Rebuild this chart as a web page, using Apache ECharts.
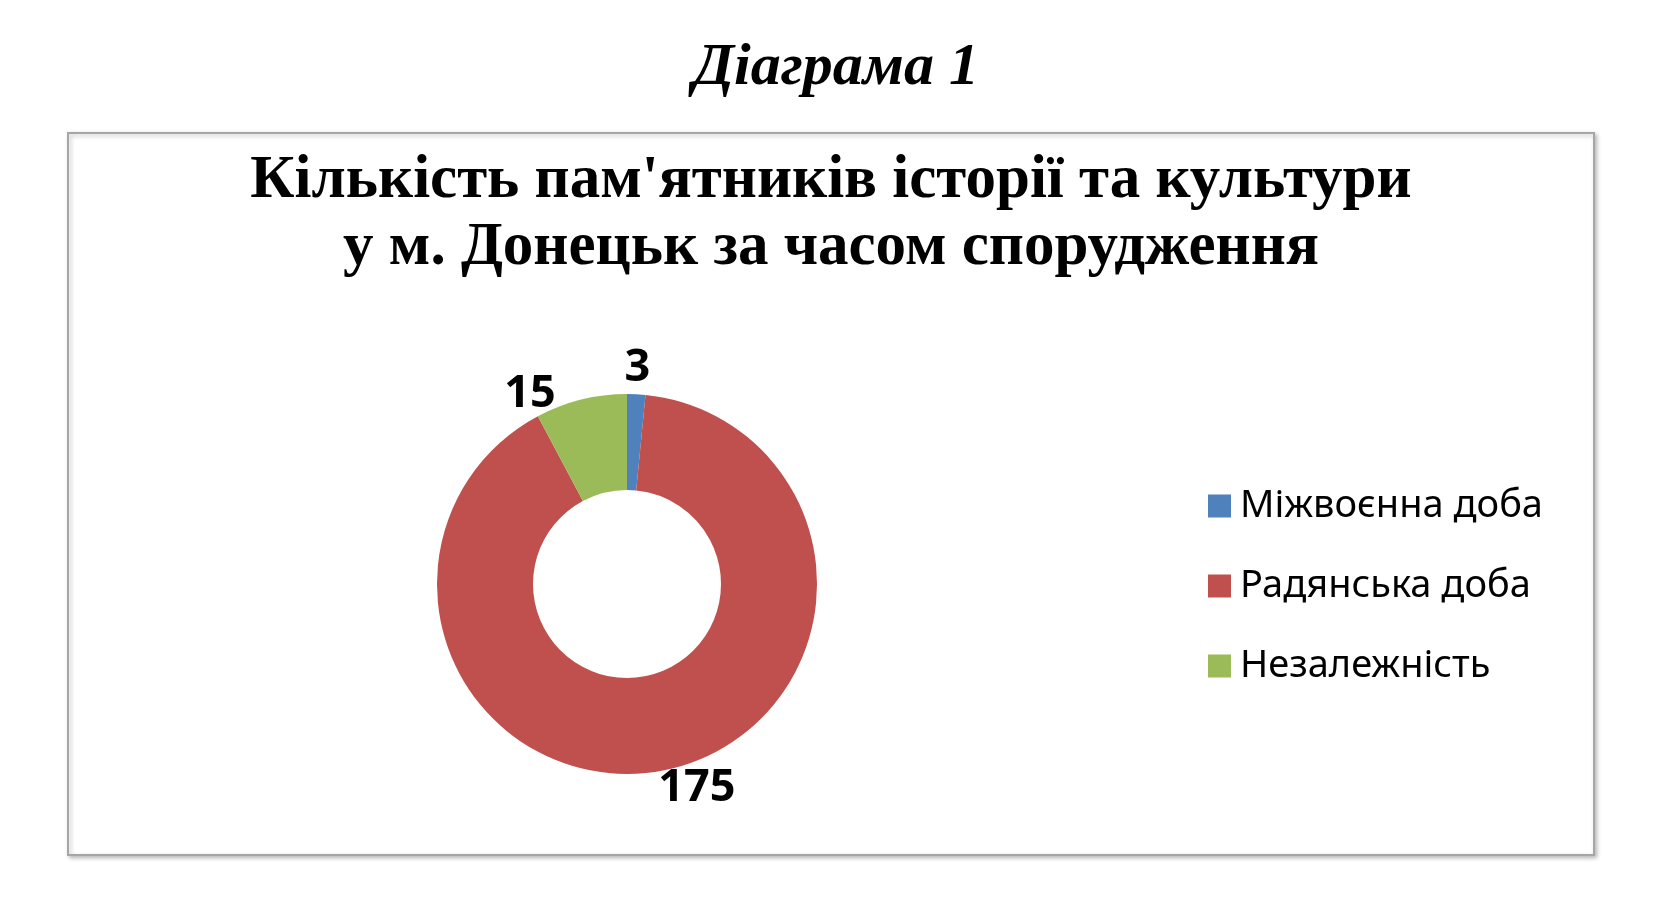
<!DOCTYPE html>
<html>
<head>
<meta charset="utf-8">
<script src="https://cdn.jsdelivr.net/npm/echarts@6/dist/echarts.min.js"></script>
<style>
html,body{margin:0;padding:0;background:#fff;}
#chart{width:1674px;height:908px;}
</style>
</head>
<body>
<div id="chart"></div>
<script>
const categories = ['Міжвоєнна доба', 'Радянська доба', 'Незалежність'];
const values = [3, 175, 15];
const colors = ['#4F81BD', '#C0504D', '#9BBB59'];
const captionText = 'Діаграма 1';
const titleText = "Кількість пам'ятників історії та культури\nу м. Донецьк за часом спорудження";

const chart = echarts.init(document.getElementById('chart'), null, {renderer: 'canvas'});

const labelTweaks = [
  {length: 26, length2: -13},
  {length: 18, length2: -9},
  {length: 6, length2: 24}
];

chart.setOption({
  backgroundColor: '#ffffff',
  animation: false,
  graphic: [{
    type: 'rect',
    shape: {x: 68, y: 133, width: 1526, height: 722},
    style: {fill: '#ffffff', stroke: '#a6a6a6', lineWidth: 2,
            shadowColor: 'rgba(0,0,0,0.25)', shadowBlur: 4, shadowOffsetX: 2, shadowOffsetY: 2},
    z: -10
  }],
  title: [{
    text: captionText,
    left: 831, top: 33, textAlign: 'center',
    textStyle: {fontFamily: 'Liberation Serif', fontStyle: 'italic', fontWeight: 'bold', fontSize: 60, lineHeight: 60, color: '#000'}
  }, {
    text: titleText,
    left: 826, top: 143, textAlign: 'center',
    textStyle: {fontFamily: 'Liberation Serif', fontWeight: 'bold', fontSize: 61, lineHeight: 67, color: '#000'}
  }],
  legend: {
    orient: 'vertical',
    left: 1203, top: 482,
    itemWidth: 23, itemHeight: 23, itemGap: 42,
    icon: 'rect',
    data: categories,
    textStyle: {fontFamily: 'Noto Sans', fontSize: 38, lineHeight: 36, color: '#000', padding: [0,0,0,4]}
  },
  series: [{
    type: 'pie',
    center: [627, 584],
    radius: [94, 190],
    startAngle: 90,
    clockwise: true,
    avoidLabelOverlap: false,
    color: colors,
    label: {
      show: true,
      position: 'outside',
      formatter: '{c}',
      fontFamily: 'Noto Sans', fontWeight: 'bold', fontSize: 45, color: '#000',
      distanceToLabelLine: 0
    },
    labelLine: {show: false, length: 18, length2: 0},
    emphasis: {disabled: true},
    data: categories.map((n, i) => ({name: n, value: values[i], labelLine: labelTweaks[i]}))
  }]
});
</script>
</body>
</html>
